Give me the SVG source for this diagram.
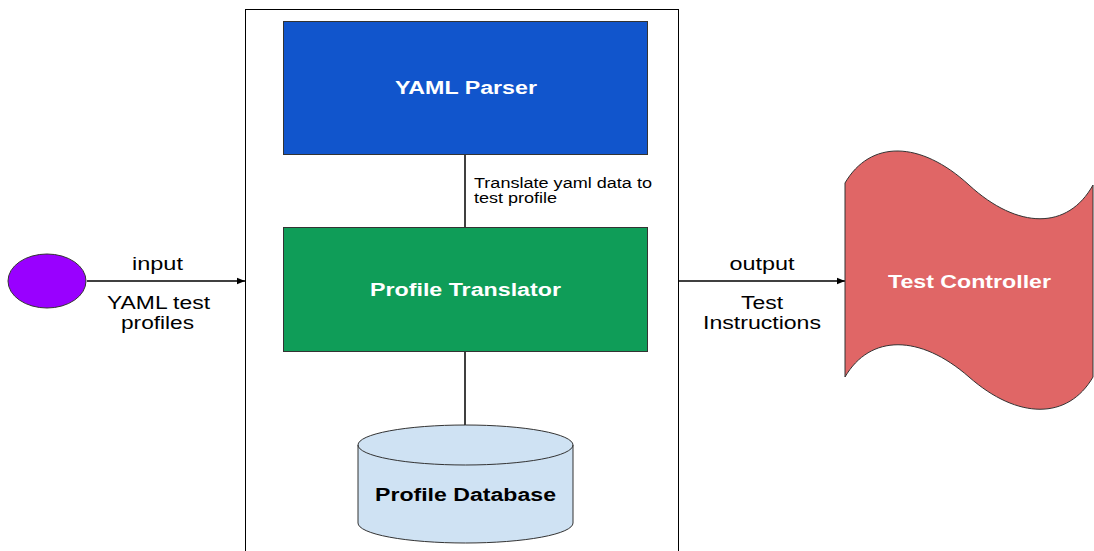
<svg xmlns="http://www.w3.org/2000/svg" width="1094" height="551" viewBox="0 0 1094 551">
  <style>
    .lbl { font-family: "Liberation Sans", Arial, sans-serif; font-size: 18px; fill: #000; text-anchor: middle; }
    .small { font-family: "Liberation Sans", Arial, sans-serif; font-size: 14px; fill: #000; }
    .title { font-family: "Liberation Sans", Arial, sans-serif; font-size: 18px; font-weight: bold; text-anchor: middle; }
    .edge { stroke: #000; stroke-width: 1.5; fill: none; }
    .outline { stroke: #333; stroke-width: 1; }
  </style>
  <defs>
    <marker id="arrow" viewBox="0 0 10 10" refX="10" refY="5" markerWidth="8" markerHeight="8" markerUnits="userSpaceOnUse" orient="auto">
      <path d="M0,1 L10,5 L0,9 Z" fill="#000"/>
    </marker>
  </defs>
  <rect width="1094" height="551" fill="#fff"/>

  <!-- system boundary -->
  <g id="system">
    <rect x="245.5" y="9.5" width="433" height="560" fill="#fff" stroke="#000" stroke-width="1"/>
  </g>

  <g id="connectors">
    <line class="edge" x1="87" y1="281" x2="245" y2="281" marker-end="url(#arrow)"/>
    <line class="edge" x1="679" y1="281" x2="845" y2="281" marker-end="url(#arrow)"/>
    <line class="edge" x1="465" y1="154" x2="465" y2="227"/>
    <line class="edge" x1="465" y1="352" x2="465" y2="425"/>
    <text class="lbl" x="157.5" y="270" textLength="51" lengthAdjust="spacingAndGlyphs">input</text>
    <text class="lbl" x="158.5" y="309" textLength="103" lengthAdjust="spacingAndGlyphs">YAML test</text>
    <text class="lbl" x="157.5" y="329" textLength="73" lengthAdjust="spacingAndGlyphs">profiles</text>
    <text class="lbl" x="762" y="270" textLength="65" lengthAdjust="spacingAndGlyphs">output</text>
    <text class="lbl" x="762" y="309" textLength="42" lengthAdjust="spacingAndGlyphs">Test</text>
    <text class="lbl" x="762" y="329" textLength="118" lengthAdjust="spacingAndGlyphs">Instructions</text>
    <text class="small" x="474" y="188" textLength="178" lengthAdjust="spacingAndGlyphs">Translate yaml data to</text>
    <text class="small" x="474" y="203" textLength="83" lengthAdjust="spacingAndGlyphs">test profile</text>
  </g>

  <g id="source">
    <ellipse cx="47" cy="281" rx="39" ry="27" fill="#9900ff" class="outline"/>
  </g>

  <g id="yaml-parser">
    <rect x="283.5" y="21.5" width="364" height="133" fill="#1155cc" class="outline"/>
    <text class="title" x="466" y="94" fill="#fff" textLength="142" lengthAdjust="spacingAndGlyphs">YAML Parser</text>
  </g>

  <g id="profile-translator">
    <rect x="283.5" y="227.5" width="364" height="124" fill="#0f9d58" class="outline"/>
    <text class="title" x="465.5" y="296" fill="#fff" textLength="191" lengthAdjust="spacingAndGlyphs">Profile Translator</text>
  </g>

  <g id="profile-database">
    <path d="M358,445 L358,523 A107.5,20 0 0 0 573,523 L573,445 A107.5,20 0 0 0 358,445 Z" fill="#cfe2f3" class="outline"/>
    <path d="M358,445 A107.5,20 0 0 0 573,445" fill="none" class="outline"/>
    <text class="title" x="465.5" y="501" fill="#000" textLength="181" lengthAdjust="spacingAndGlyphs">Profile Database</text>
  </g>

  <g id="test-controller">
    <path d="M845,183 C870,140 920,140 969,185 C1018,230 1068,230 1093,185 L1093,377 C1068,420 1018,420 969,377 C920,334 870,334 845,377 Z" fill="#e06666" class="outline"/>
    <text class="title" x="969.5" y="288" fill="#fff" textLength="163" lengthAdjust="spacingAndGlyphs">Test Controller</text>
  </g>
</svg>
